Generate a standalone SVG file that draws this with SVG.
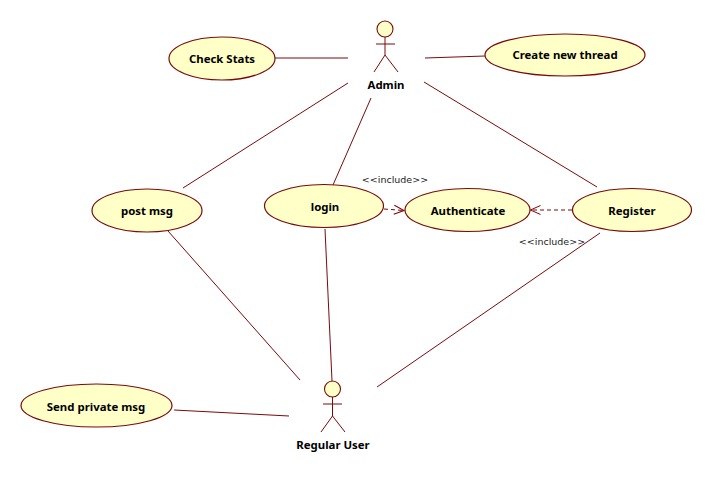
<svg xmlns="http://www.w3.org/2000/svg" width="712" height="477" viewBox="0 0 712 477">
<defs>
<marker id="open" markerWidth="12" markerHeight="12" refX="11" refY="6" orient="auto" markerUnits="userSpaceOnUse"><path d="M1 1.500 L11 6 L1 10.500" fill="none" stroke="#800000" stroke-width="1"/></marker>
</defs>
<style>
text{font-family:"Noto Sans","DejaVu Sans",sans-serif;font-size:11.400px;fill:#000;text-anchor:middle}
.b{font-weight:bold}
.uc{fill:#ffffc8;stroke:#7a0a0a;stroke-width:1.2}
.ln{fill:none;stroke:#7a0a0a;stroke-width:1}
.dash{fill:none;stroke:#7a0a0a;stroke-width:1;stroke-dasharray:4 3;marker-end:url(#open)}
.head{fill:#ffffc8;stroke:#7a0a0a;stroke-width:1.1}
.inc{font-family:"DejaVu Sans",sans-serif;font-size:9.500px;fill:#222}
</style>
<rect width="712" height="477" fill="#fff"/>
<g id="connectors">
<line class="ln" x1="275" y1="58" x2="348" y2="58"/>
<line class="ln" x1="425" y1="58" x2="485" y2="56"/>
<line class="ln" x1="348" y1="83" x2="183" y2="188"/>
<line class="ln" x1="371" y1="98" x2="333" y2="185"/>
<line class="ln" x1="424" y1="82" x2="597" y2="187"/>
<line class="ln" x1="168" y1="231" x2="300" y2="380"/>
<line class="ln" x1="325" y1="229" x2="332" y2="381"/>
<line class="ln" x1="600" y1="233" x2="377" y2="387"/>
<line class="ln" x1="174" y1="410" x2="289" y2="416"/>
<line class="dash" x1="384" y1="209" x2="404" y2="210.500"/>
<line class="dash" x1="572" y1="210" x2="530.500" y2="210"/>
</g>
<g id="check-stats"><ellipse class="uc" cx="222" cy="58.500" rx="53" ry="21.500"/><text class="b" x="222" y="63">Check Stats</text></g>
<g id="create-thread"><ellipse class="uc" cx="565" cy="55" rx="80" ry="21"/><text class="b" x="565" y="59">Create new thread</text></g>
<g id="post-msg"><ellipse class="uc" cx="147" cy="210.500" rx="55" ry="21.500"/><text class="b" x="147" y="215">post msg</text></g>
<g id="login"><ellipse class="uc" cx="324" cy="206" rx="59.500" ry="21.500"/><text class="b" x="325" y="211">login</text></g>
<g id="authenticate"><ellipse class="uc" cx="467.500" cy="210" rx="62.500" ry="21.500"/><text class="b" x="468" y="215">Authenticate</text></g>
<g id="register"><ellipse class="uc" cx="632" cy="210" rx="59.500" ry="21.500"/><text class="b" x="632" y="215">Register</text></g>
<g id="send-private"><ellipse class="uc" cx="96.500" cy="405.500" rx="75.500" ry="21.500"/><text class="b" x="96" y="411">Send private msg</text></g>
<g id="admin">
<circle class="head" cx="385" cy="29" r="8"/>
<path class="ln" d="M385 37V55M376 44H395M385 55L374 72M385 55L398 72"/>
<text class="b" x="386" y="89">Admin</text>
</g>
<g id="regular-user">
<circle class="head" cx="332.500" cy="389" r="8"/>
<path class="ln" d="M332.500 397V416M323 404H342M332.500 416L321 432M332.500 416L345 432"/>
<text class="b" x="333" y="449">Regular User</text>
</g>
<text class="inc" x="395" y="183">&lt;&lt;include&gt;&gt;</text>
<text class="inc" x="552" y="245">&lt;&lt;include&gt;&gt;</text>
</svg>
